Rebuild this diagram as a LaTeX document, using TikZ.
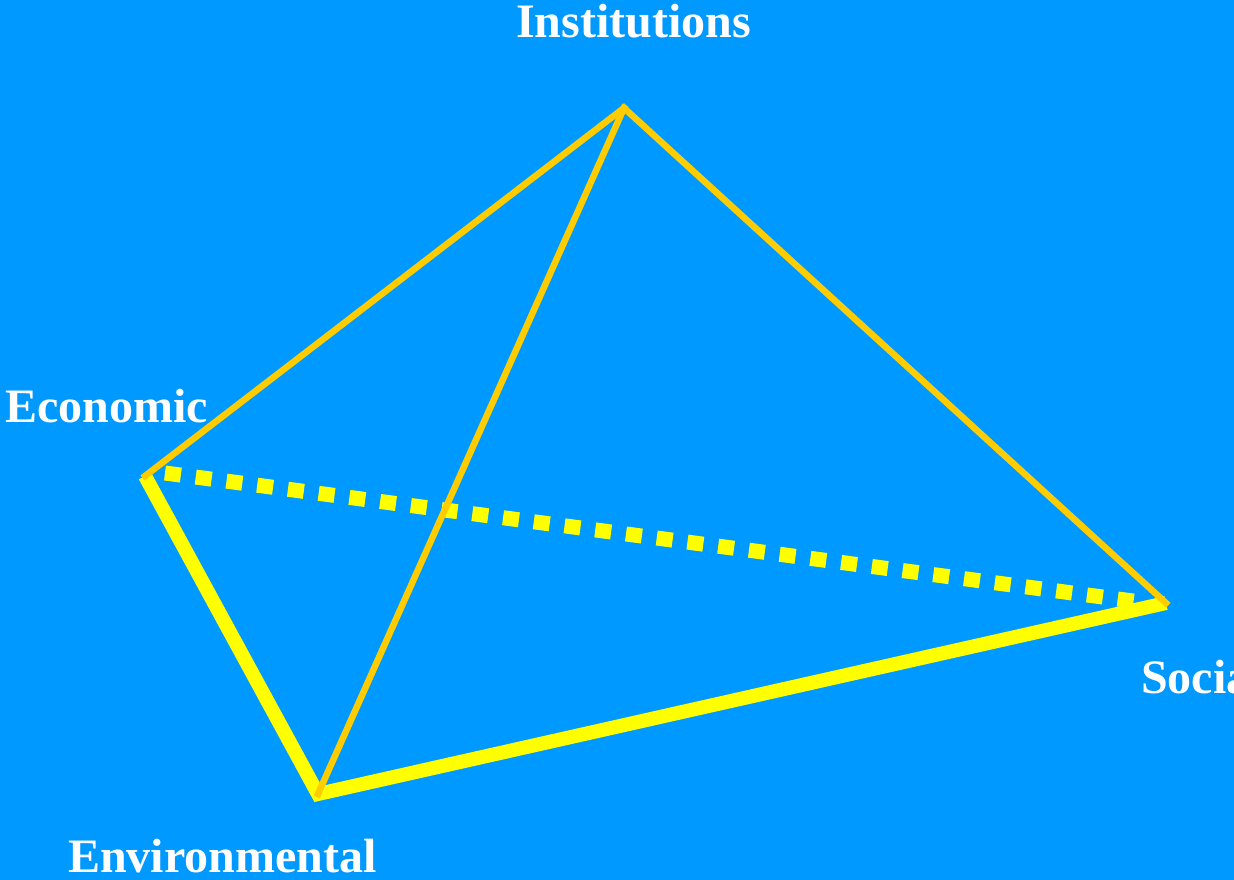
\documentclass[tikz,border=0pt]{standalone}
\usepackage{fontspec}
\setmainfont{Liberation Serif}
\definecolor{bgblue}{HTML}{0099FF}
\definecolor{edgeorange}{HTML}{FFCC00}
\definecolor{edgeyellow}{HTML}{FFFF00}
\tikzset{
  lbl/.style={text=white, font=\fontsize{48}{48}\selectfont\bfseries, inner sep=0pt, anchor=base west},
  front/.style={draw=edgeyellow, line width=14pt, line cap=butt, line join=miter},
  hidden/.style={draw=edgeyellow, line width=15pt, dash pattern=on 16pt off 15pt},
  back/.style={draw=edgeorange, line width=6.5pt, line cap=rect}
}
\begin{document}
\begin{tikzpicture}[x=1pt,y=-1pt]
\useasboundingbox (0,0) rectangle (1234,880);
\fill[bgblue] (0,0) rectangle (1234,880);
\coordinate (I) at (624,108);
\coordinate (E) at (145,476);
\coordinate (V) at (318,794);
\coordinate (S) at (1166,603);
\draw[hidden] ([xshift=20pt,yshift=3pt]E) -- ([xshift=-18pt]S);
\draw[front] (E) -- (V) -- (S);
\draw[back] (E) -- (I);
\draw[back] (I) -- (V);
\draw[back] (I) -- (S);
\node[lbl] (lI) at (516,38) {Institutions};
\node[lbl] (lE) at (5,422) {Economic};
\node[lbl] (lV) at (68,872) {Environmental};
\node[lbl] (lS) at (1141,693) {Social};
\end{tikzpicture}
\end{document}
